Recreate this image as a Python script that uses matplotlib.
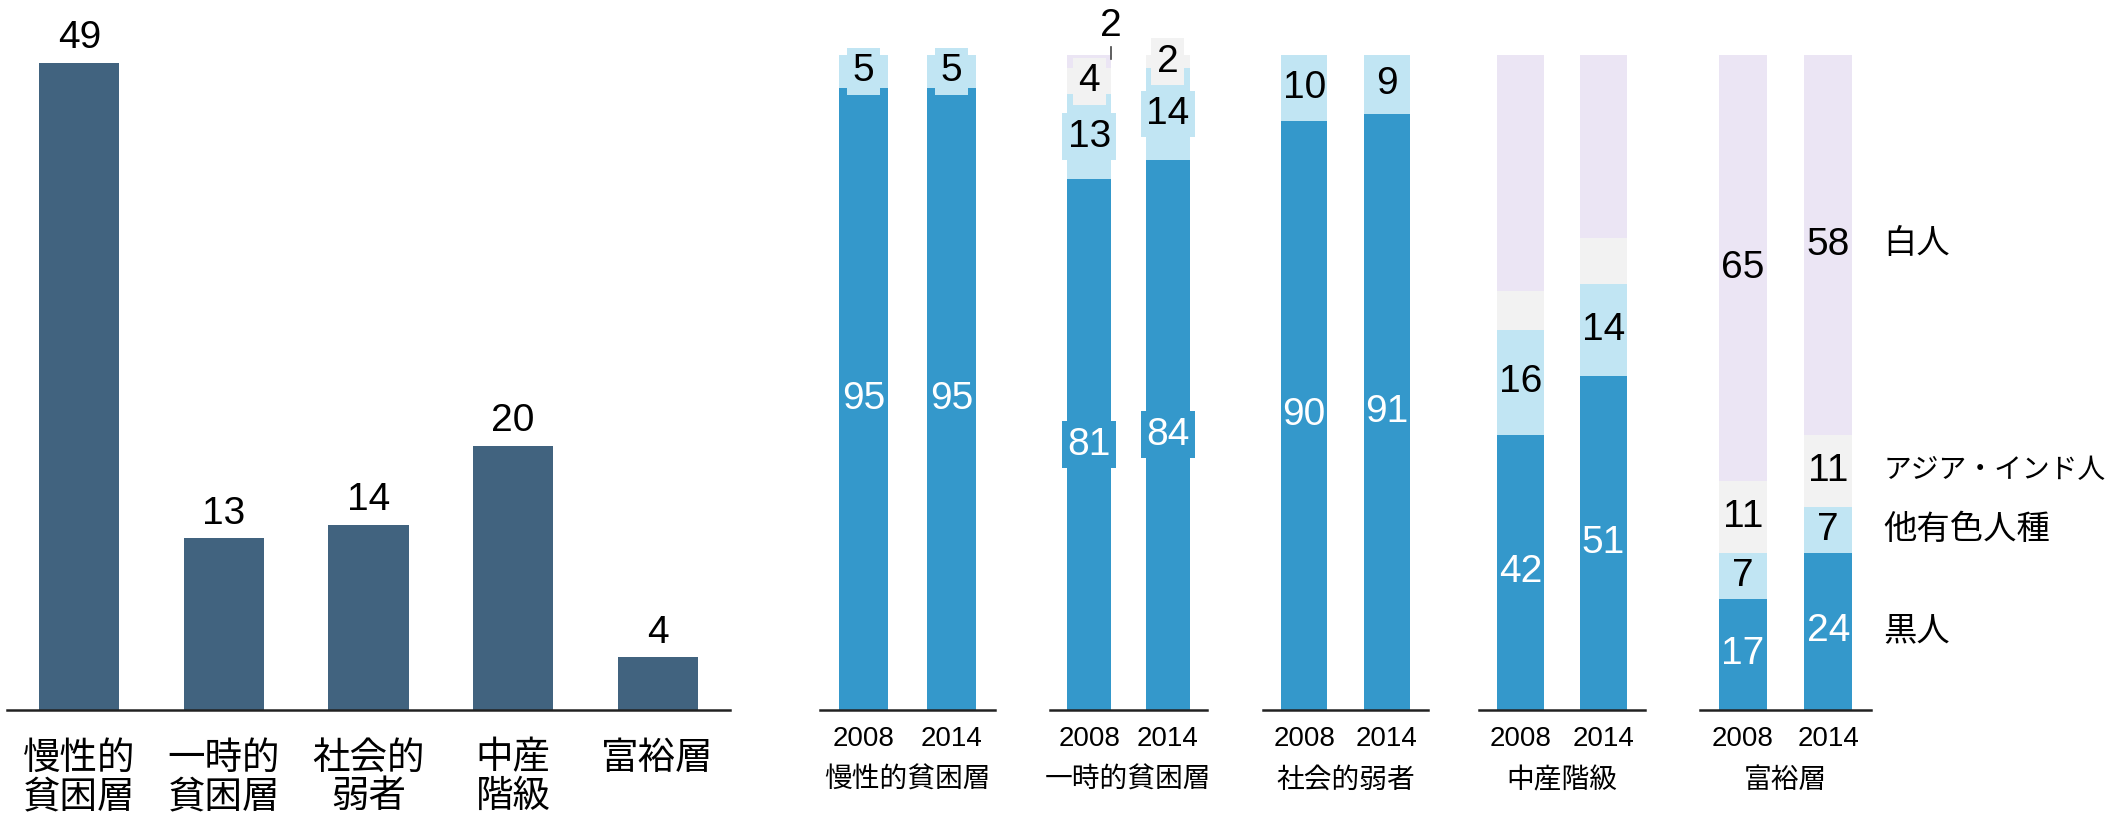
import numpy as np
import matplotlib
matplotlib.use('Agg')
import matplotlib.pyplot as plt

plt.rcParams['font.family'] = ['Liberation Sans', 'Noto Sans CJK JP']

# left chart: share of population by class (%)
classes = ['慢性的\n貧困層', '一時的\n貧困層', '社会的\n弱者', '中産\n階級', '富裕層']
class_share = [49, 13, 14, 20, 4]

# right chart: racial mix per class, 2008 vs 2014 (%)
panel_titles = ['慢性的貧困層', '一時的貧困層', '社会的弱者', '中産階級', '富裕層']
years = ['2008', '2014']
races = ['黒人', '他有色人種', 'アジア・インド人', '白人']
black = [[95, 95], [81, 84], [90, 91], [42, 51], [17, 24]]
other = [[5, 5], [13, 14], [10, 9], [16, 14], [7, 7]]
asian = [[0, 0], [4, 2], [0, 0], [6, 7], [11, 11]]
white = [[0, 0], [2, 0], [0, 0], [36, 28], [65, 58]]

# segments left without a number, the one labelled above its bar,
# and the labels drawn on a backing box
unlabeled = {(3, 2), (3, 3)}
outside = {(1, 0, 3)}
boxed = {(0, 1), (1, 0), (1, 1), (1, 2)}

slate = '#41637f'
seg_colors = ['#3498cb', '#c1e5f3', '#f2f2f2', '#ebe5f4']
seg_text = ['white', 'black', 'black', 'black']

W, H = 2113, 816
fig = plt.figure(figsize=(W / 100, H / 100), dpi=100)


def px_axes(x0, x1, y_top=55, y_bot=710):
    return fig.add_axes([x0 / W, (H - y_bot) / H, (x1 - x0) / W, (y_bot - y_top) / H])


def clean(ax):
    for s in ['top', 'left', 'right']:
        ax.spines[s].set_visible(False)
    ax.spines['bottom'].set_linewidth(1.8)
    ax.spines['bottom'].set_color('#222222')
    ax.set_yticks([])


# ---- left bar chart ----
ax = px_axes(7, 730)
x = np.arange(len(classes))
ax.bar(x, class_share, width=0.555, color=slate)
for xi, v in zip(x, class_share):
    ax.annotate(str(v), (xi, v), xytext=(0, 10.5), textcoords='offset points',
                ha='center', va='baseline', fontsize=28)
ax.set_xlim(-0.5, 4.5)
ax.set_ylim(0, 49.58)
ax.set_xticks(x)
ax.set_xticklabels(classes, fontsize=27, linespacing=1.1, va='top')
ax.tick_params(axis='x', length=0, pad=22)
clean(ax)

# ---- stacked panels ----
panel_px = [(820, 995), (1050, 1207), (1263, 1428), (1479, 1645), (1700, 1871)]
stack = [black, other, asian, white]
bw = 0.56

for p, (x0, x1) in enumerate(panel_px):
    ax = px_axes(x0, x1)
    xs = np.arange(2)
    bottom = np.zeros(2)
    for k in range(4):
        vals = np.array([stack[k][p][0], stack[k][p][1]], dtype=float)
        ax.bar(xs, vals, bottom=bottom, width=bw, color=seg_colors[k])
        for b in range(2):
            v = vals[b]
            if v <= 0 or (p, k) in unlabeled:
                continue
            if (p, b, k) in outside:
                xr = xs[b] + bw / 2
                ax.plot([xr, xr], [99.4, 101.2], color='#444444', lw=1.2, clip_on=False)
                ax.text(xr, 104.4, str(int(v)), ha='center', va='center', fontsize=28)
                continue
            box = None
            if (p, k) in boxed:
                box = dict(boxstyle='square,pad=0.14', fc=seg_colors[k], ec='none')
            ax.text(xs[b], bottom[b] + v / 2, str(int(v)), ha='center', va='center',
                    fontsize=28, color=seg_text[k], bbox=box)
        bottom += vals
    ax.set_xlim(-0.5, 1.5)
    ax.set_ylim(0, 100)
    ax.set_xticks([])
    for b in range(2):
        ax.annotate(years[b], (xs[b], 0), xytext=(0, -21), textcoords='offset points',
                    ha='center', va='center', fontsize=20)
    ax.annotate(panel_titles[p], (0.5, 0), xycoords='axes fraction', xytext=(0, -51),
                textcoords='offset points', ha='center', va='center', fontsize=20)
    clean(ax)

    # race labels beside the last bar
    if p == len(panel_px) - 1:
        cum = 0
        for k in range(4):
            v = stack[k][p][1]
            yc = cum + v / 2
            cum += v
            # the long katakana label is set a little smaller so it fits the page
            fs = 20 if len(races[k]) > 5 else 24
            ax.annotate(races[k], (1, yc), xytext=(39.6, 0), textcoords='offset points',
                        ha='left', va='center', fontsize=fs)

fig.savefig('out.png', dpi=100)
